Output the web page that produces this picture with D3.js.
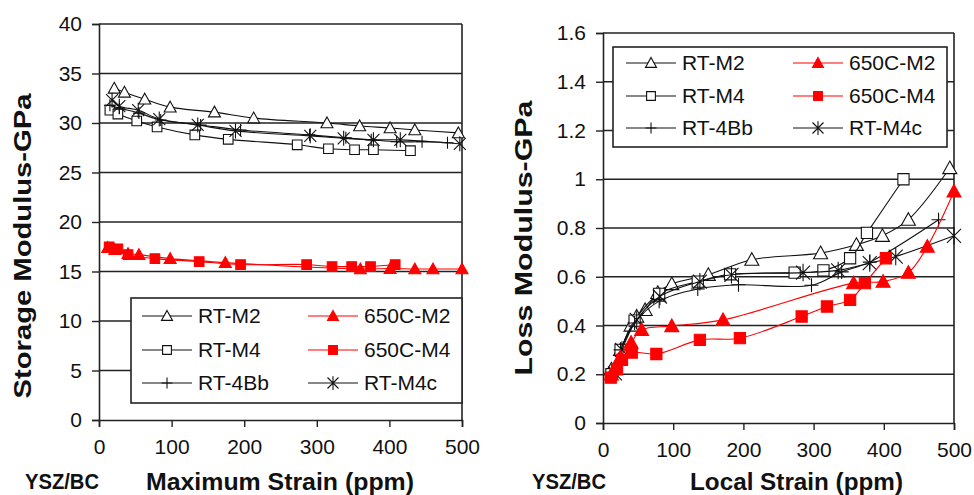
<!DOCTYPE html>
<html>
<head>
<meta charset="utf-8">
<script src="https://cdn.jsdelivr.net/npm/d3@7"></script>
<style>
  body { margin: 0; background: #fff; }
  text { font-family: "Liberation Sans", Arial, sans-serif; fill: #111; }
</style>
</head>
<body>
<script>
// x ticks shared by both panels
var xTicks = [0, 100, 200, 300, 400, 500];
var storageTicks = [0, 5, 10, 15, 20, 25, 30, 35, 40];
var lossTicks = [0, 0.2, 0.4, 0.6, 0.8, 1, 1.2, 1.4, 1.6];

var seriesNames = ["RT-M2", "RT-M4", "RT-4Bb", "650C-M2", "650C-M4", "RT-M4c"];

// storage modulus vs maximum strain
var stRTM2 = [[21,33.5],[35,33.1],[63,32.4],[98,31.6],[159,31.1],[213,30.5],[314,30.0],[359,29.7],[401,29.5],[435,29.3],[495,29.0]];
var stRTM4 = [[15,31.3],[26,30.9],[52,30.2],[80,29.6],[132,28.8],[178,28.35],[273,27.8],[316,27.4],[352,27.3],[378,27.3],[429,27.2]];
var stRT4Bb = [[15,31.8],[28,31.5],[55,31.0],[85,30.3],[140,29.8],[195,29.3],[290,28.8],[340,28.5],[375,28.3],[410,28.1],[445,28.1],[480,28.0]];
var stRTM4c = [[18,32.3],[28,31.7],[54,31.3],[83,30.4],[136,29.8],[188,29.2],[291,28.7],[337,28.45],[378,28.3],[415,28.3],[497,27.9]];
var st650M2 = [[12,17.4],[22,17.2],[40,16.8],[55,16.7],[98,16.3],[174,15.9],[360,15.25],[401,15.3],[435,15.25],[460,15.25],[500,15.25]];
var st650M4 = [[14,17.5],[26,17.3],[40,16.7],[77,16.3],[138,16.0],[195,15.7],[286,15.7],[321,15.5],[348,15.5],[374,15.5],[408,15.7]];

// loss modulus vs local strain
var lsRTM2 = [[12,0.22],[25,0.3],[40,0.4],[48,0.437],[60,0.464],[78,0.534],[98,0.57],[150,0.608],[212,0.67],[310,0.697],[361,0.731],[398,0.768],[435,0.834],[494,1.046]];
var lsRTM4 = [[12,0.2],[25,0.3],[45,0.42],[80,0.53],[135,0.58],[181,0.61],[273,0.617],[314,0.626],[352,0.676],[376,0.78],[428,1.0]];
var lsRT4Bb = [[12,0.2],[25,0.3],[45,0.41],[80,0.5],[135,0.55],[193,0.567],[297,0.565],[340,0.62],[380,0.66],[478,0.834]];
var lsRTM4c = [[17,0.204],[27,0.3],[48,0.423],[81,0.519],[138,0.58],[183,0.608],[285,0.617],[335,0.626],[380,0.656],[417,0.683],[500,0.768]];
var ls650M2 = [[12,0.2],[25,0.27],[40,0.33],[55,0.382],[98,0.398],[171,0.423],[357,0.574],[399,0.58],[435,0.617],[462,0.724],[500,0.95]];
var ls650M4 = [[11,0.186],[20,0.22],[27,0.259],[41,0.289],[76,0.283],[138,0.341],[195,0.348],[283,0.437],[319,0.478],[352,0.505],[373,0.574],[403,0.676]];

var styles = {
    "RT-M2":   {color: "#111", marker: "tri",    fill: "#fff"},
    "RT-M4":   {color: "#111", marker: "square", fill: "#fff"},
    "RT-4Bb":  {color: "#111", marker: "plus",   fill: "none"},
    "650C-M2": {color: "#ff0000", marker: "tri",    fill: "#ff0000"},
    "650C-M4": {color: "#ff0000", marker: "square", fill: "#ff0000"},
    "RT-M4c":  {color: "#111", marker: "star",   fill: "none"}
};

function markerPath(kind, s) {
    if (kind == "tri") return "M0," + (-s) + "L" + s + "," + (s * 0.8) + "L" + (-s) + "," + (s * 0.8) + "Z";
    if (kind == "square") return "M" + (-s * 0.8) + "," + (-s * 0.8) + "h" + (s * 1.6) + "v" + (s * 1.6) + "h" + (-s * 1.6) + "Z";
    if (kind == "plus") return "M" + (-s) + ",0H" + s + "M0," + (-s) + "V" + s;
    // asterisk, a bit bigger than the others
    s = s * 1.25;
    var d = s * 0.8;
    return "M0," + (-s) + "V" + s + "M" + (-d) + "," + (-d) + "L" + d + "," + d + "M" + d + "," + (-d) + "L" + (-d) + "," + d;
}

var svg = d3.select("body").append("svg")
    .attr("width", 974)
    .attr("height", 495);

function drawPanel(p) {
    var x = d3.scaleLinear().domain([0, 500]).range([p.left, p.right]);
    var y = d3.scaleLinear().domain([0, p.yMax]).range([p.bottom, p.top]);
    var g = svg.append("g");

    // grid
    g.append("g").selectAll("line")
        .data(p.yTicks.slice(1))
        .enter().append("line")
        .attr("x1", p.left).attr("x2", p.right)
        .attr("y1", function (d) { return y(d); })
        .attr("y2", function (d) { return y(d); })
        .attr("stroke", "#222").attr("stroke-width", 1.6);
    g.append("line")
        .attr("x1", p.right).attr("x2", p.right)
        .attr("y1", p.top).attr("y2", p.bottom)
        .attr("stroke", "#222").attr("stroke-width", 1.6);

    // axes
    var yAxis = g.append("g")
        .attr("transform", "translate(" + p.left + ",0)")
        .call(d3.axisLeft(y).tickValues(p.yTicks).tickSize(7).tickPadding(10).tickFormat(p.fmt));
    var xAxis = g.append("g")
        .attr("transform", "translate(0," + p.bottom + ")")
        .call(d3.axisBottom(x).tickValues(xTicks).tickSize(7).tickPadding(12).tickFormat(d3.format("d")));
    [xAxis, yAxis].forEach(function (a) {
        a.select(".domain").attr("stroke", "#222").attr("stroke-width", 1.6);
        a.selectAll(".tick line").attr("stroke", "#222").attr("stroke-width", 1.4);
        a.selectAll("text").attr("font-size", 21).attr("fill", "#111")
            .attr("font-family", "'Liberation Sans', Arial, sans-serif");
    });

    // series
    var line = d3.line()
        .x(function (d) { return x(d[0]); })
        .y(function (d) { return y(d[1]); })
        .curve(d3.curveCatmullRom.alpha(0.5));
    p.series.forEach(function (s) {
        var st = styles[s.name];
        g.append("path")
            .attr("d", line(s.values))
            .attr("fill", "none")
            .attr("stroke", st.color)
            .attr("stroke-width", 1.1);
        g.append("g").selectAll("path")
            .data(s.values)
            .enter().append("path")
            .attr("transform", function (d) { return "translate(" + x(d[0]) + "," + y(d[1]) + ")"; })
            .attr("d", markerPath(st.marker, p.msize))
            .attr("fill", st.fill)
            .attr("stroke", st.color)
            .attr("stroke-width", 1.1);
    });

    // legend
    var L = p.legend;
    var lg = g.append("g");
    lg.append("rect")
        .attr("x", L.x).attr("y", L.y).attr("width", L.w).attr("height", L.h)
        .attr("fill", "#fff").attr("stroke", "#222").attr("stroke-width", 1.6);
    seriesNames.forEach(function (name, i) {
        var st = styles[name];
        var col = i < 3 ? 0 : 1, row = i % 3;
        var lx = L.x + L.colX[col], ly = L.y + L.rowY[row];
        lg.append("line")
            .attr("x1", lx).attr("x2", lx + 50)
            .attr("y1", ly).attr("y2", ly)
            .attr("stroke", st.color).attr("stroke-width", 1.1);
        lg.append("path")
            .attr("transform", "translate(" + (lx + 25) + "," + ly + ")")
            .attr("d", markerPath(st.marker, 5.5))
            .attr("fill", st.fill)
            .attr("stroke", st.color)
            .attr("stroke-width", 1.1);
        lg.append("text")
            .attr("x", lx + 56).attr("y", ly + 7)
            .attr("font-size", 21)
            .text(name);
    });

    // titles
    g.append("text")
        .attr("transform", "translate(" + p.yTitleX + "," + p.yTitleY + ") rotate(-90)")
        .attr("text-anchor", "middle")
        .attr("font-weight", "bold")
        .attr("font-size", 24)
        .attr("textLength", p.yTitleLen)
        .attr("lengthAdjust", "spacingAndGlyphs")
        .text(p.yTitle);
    g.append("text")
        .attr("x", p.tagX).attr("y", 489)
        .attr("font-weight", "bold")
        .attr("font-size", 22)
        .attr("textLength", 74)
        .attr("lengthAdjust", "spacingAndGlyphs")
        .text("YSZ/BC");
    g.append("text")
        .attr("x", p.xTitleX).attr("y", 490)
        .attr("font-weight", "bold")
        .attr("font-size", 24)
        .attr("textLength", p.xTitleLen)
        .attr("lengthAdjust", "spacingAndGlyphs")
        .text(p.xTitle);
}

drawPanel({
    left: 99, right: 462, top: 24, bottom: 420,
    yMax: 40, yTicks: storageTicks, fmt: d3.format("d"), msize: 6,
    series: [
        {name: "RT-M2", values: stRTM2},
        {name: "RT-M4", values: stRTM4},
        {name: "RT-4Bb", values: stRT4Bb},
        {name: "RT-M4c", values: stRTM4c},
        {name: "650C-M2", values: st650M2},
        {name: "650C-M4", values: st650M4}
    ],
    legend: {x: 131, y: 298, w: 331, h: 105, colX: [11, 177], rowY: [18, 52, 85]},
    yTitle: "Storage Modulus-GPa", yTitleX: 31, yTitleY: 246, yTitleLen: 305,
    xTitle: "Maximum Strain (ppm)", xTitleX: 146, xTitleLen: 268, tagX: 25
});

drawPanel({
    left: 603, right: 954, top: 33, bottom: 423,
    yMax: 1.6, yTicks: lossTicks, fmt: function (d) { return d3.format("")(+d.toFixed(1)); }, msize: 7,
    series: [
        {name: "RT-M2", values: lsRTM2},
        {name: "RT-M4", values: lsRTM4},
        {name: "RT-4Bb", values: lsRT4Bb},
        {name: "RT-M4c", values: lsRTM4c},
        {name: "650C-M2", values: ls650M2},
        {name: "650C-M4", values: ls650M4}
    ],
    legend: {x: 613, y: 47, w: 334, h: 100, colX: [13, 180], rowY: [16, 49, 81]},
    yTitle: "Loss Modulus-GPa", yTitleX: 532, yTitleY: 238, yTitleLen: 275,
    xTitle: "Local Strain (ppm)", xTitleX: 690, xTitleLen: 213, tagX: 532
});
</script>
</body>
</html>
